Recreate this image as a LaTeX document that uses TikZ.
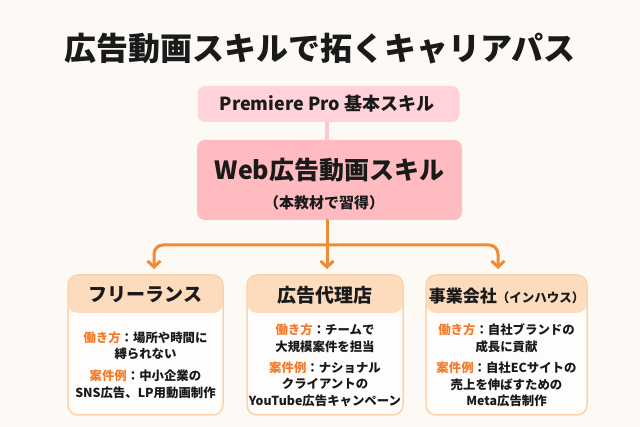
\documentclass[tikz,border=0pt]{standalone}
\usepackage{fontspec}
\setmainfont{Noto Sans CJK JP}
\usetikzlibrary{arrows.meta}
\definecolor{bgcream}{HTML}{FDFAF5}
\definecolor{premfill}{HTML}{FFD3D8}
\definecolor{webfill}{HTML}{FFBBC0}
\definecolor{pinkline}{HTML}{FFC6CC}
\definecolor{arrorange}{HTML}{EF8B35}
\definecolor{headfill}{HTML}{FDDCBD}
\definecolor{colline}{HTML}{FAD3AE}
\definecolor{bodyfill}{HTML}{FFFDFB}
\definecolor{lbltext}{HTML}{F47A2A}
\definecolor{inktext}{HTML}{1A1A1A}
\newcommand{\lbl}[1]{{\color{lbltext}#1}：}
\begin{document}
\begin{tikzpicture}[>={Straight Barb[length=6pt,width=13pt]}, line join=round, line cap=round, x=1pt, y=-1pt,
	txt/.style={text=inktext, inner sep=0pt, font=\bfseries},
	skillbox/.style={rounded corners=8pt, inner sep=0pt},
	colbox/.style={draw=colline, line width=1.5pt, fill=bodyfill, rounded corners=10pt, minimum height=140pt, inner sep=0pt,
		path picture={\fill[headfill] (path picture bounding box.north west) rectangle ([yshift=-38pt]path picture bounding box.north east);}},
	headtxt/.style={txt, font=\fontsize{19}{22}\selectfont\bfseries},
	bodytxt/.style={txt, align=center, font=\fontsize{12.4}{16.7}\selectfont\bfseries},
	conn/.style={draw=arrorange, line width=3pt, ->}]
	\fill[bgcream] (0,0) rectangle (640,427);
	\useasboundingbox (0,0) rectangle (640,427);
	\node[txt, font=\fontsize{32}{36}\selectfont\bfseries] (title) at (320,49) {広告動画スキルで拓くキャリアパス};
	\node[skillbox, fill=premfill, minimum width=262pt, minimum height=36pt] (prem) at (328.5,104) {};
	\node[txt, font=\fontsize{18}{20}\selectfont\bfseries] (premtxt) at (327,104) {Premiere Pro 基本スキル};
	\node[skillbox, fill=webfill, minimum width=265pt, minimum height=80pt] (web) at (329.5,180) {};
	\node[txt, font=\fontsize{25}{28}\selectfont\bfseries] (webtxt) at (329.5,170) {Web広告動画スキル};
	\node[txt, font=\fontsize{15}{17}\selectfont\bfseries] (websub) at (324,203) {（本教材で習得）};
	\draw[draw=pinkline, line width=3.5pt] (prem.south -| 327,0) -- (web.north -| 327,0);
	\coordinate (t1) at (154,269);
	\coordinate (t2) at (327,269);
	\coordinate (t3) at (498,269);
	\coordinate (hub) at (327,245);
	\draw[conn] (web.south -| t2) -- (t2);
	\draw[conn, rounded corners=9pt] (hub) -| (t1);
	\draw[conn, rounded corners=9pt] (hub) -| (t3);
	\node[colbox, minimum width=155pt] (fl) at (145.5,345) {};
	\node[colbox, minimum width=156pt] (ag) at (325,345) {};
	\node[colbox, minimum width=161pt] (ih) at (506.5,345) {};
	\node[headtxt] (flhead) at (145.5,295) {フリーランス};
	\node[headtxt] (aghead) at (325,295) {広告代理店};
	\node[headtxt, font=\fontsize{17}{20}\selectfont\bfseries] (ihhead) at (506.5,296) {事業会社{\fontsize{12.5}{14}\selectfont（インハウス）}};
	\node[bodytxt] (flbody) at (145.5,365) {\lbl{働き方}場所や時間に\\縛られない\\[5pt]\lbl{案件例}中小企業の\\SNS広告、LP用動画制作};
	\node[bodytxt] (agbody) at (325,365.5) {\lbl{働き方}チームで\\大規模案件を担当\\[4pt]\lbl{案件例}ナショナル\\クライアントの\\YouTube広告キャンペーン};
	\node[bodytxt] (ihbody) at (506.5,365.5) {\lbl{働き方}自社ブランドの\\成長に貢献\\[4pt]\lbl{案件例}自社ECサイトの\\売上を伸ばすための\\Meta広告制作};
\end{tikzpicture}
\end{document}
